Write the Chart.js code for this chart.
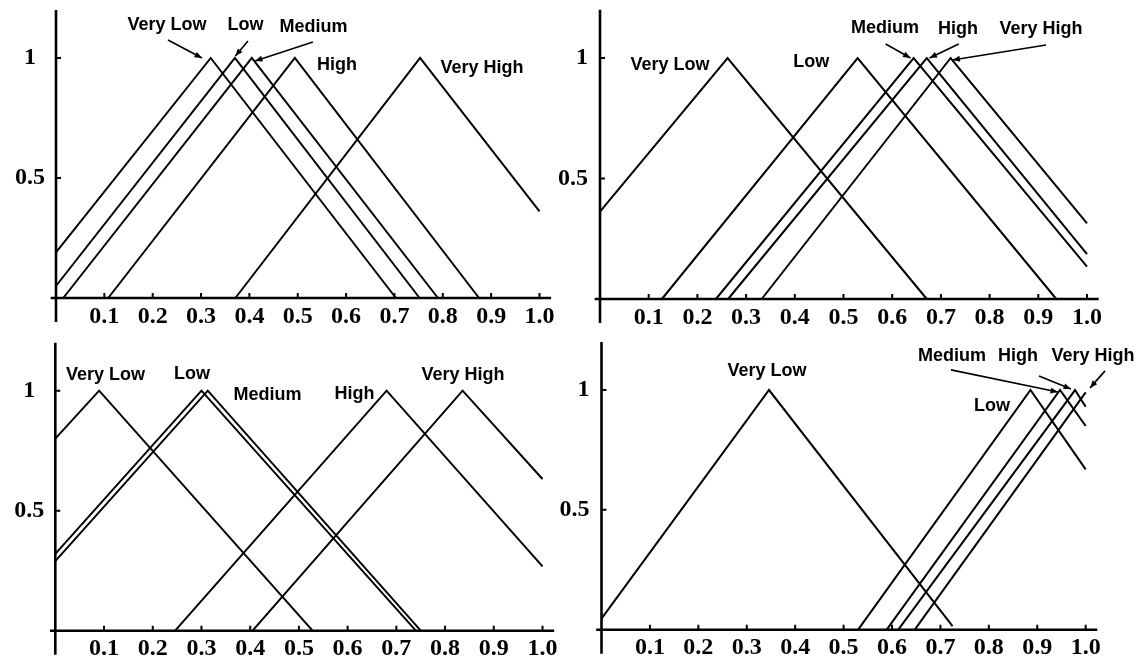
<!DOCTYPE html>
<html lang="en">
<head>
    <meta charset="UTF-8">
    <title>Membership Functions</title>
    <script src="https://cdn.jsdelivr.net/npm/chart.js"></script>
    <style>
        * {
            box-sizing: border-box;
            margin: 0;
            padding: 0;
        }
        body {
            background-color: #ffffff;
            width: 1143px;
            height: 666px;
            position: relative;
            overflow: hidden;
        }
        canvas {
            position: absolute;
        }
    </style>
</head>
<body>

<canvas id="chartA" width="571" height="333" style="left:0;top:0"></canvas>
<canvas id="chartB" width="593" height="333" style="left:550px;top:0"></canvas>
<canvas id="chartC" width="571" height="333" style="left:0;top:333px"></canvas>
<canvas id="chartD" width="593" height="333" style="left:550px;top:333px"></canvas>

<script>
    // categories and tick labels
    var termNames = ['Very Low', 'Low', 'Medium', 'High', 'Very High'];
    var xTicks = [0.1, 0.2, 0.3, 0.4, 0.5, 0.6, 0.7, 0.8, 0.9, 1.0];
    var yTicks = [0.5, 1];

    // corner points [x, membership] of each term, one list per panel
    var topLeft = [
        [[0, 0.19], [0.32, 1], [0.703, 0]],
        [[0, 0.05], [0.37, 1], [0.752, 0]],
        [[0.015, 0], [0.405, 1], [0.79, 0]],
        [[0.108, 0], [0.494, 1], [0.875, 0]],
        [[0.371, 0], [0.753, 1], [1.0, 0.361]]
    ];
    var topRight = [
        [[0, 0.363], [0.262, 1], [0.671, 0]],
        [[0.127, 0], [0.529, 1], [0.937, 0]],
        [[0.238, 0], [0.644, 1], [1.0, 0.134]],
        [[0.263, 0], [0.671, 1], [1.0, 0.186]],
        [[0.332, 0], [0.72, 1], [1.0, 0.314]]
    ];
    var bottomLeft = [
        [[0, 0.80], [0.09, 1], [0.528, 0]],
        [[0, 0.32], [0.30, 1], [0.74, 0]],
        [[0, 0.29], [0.313, 1], [0.75, 0]],
        [[0.246, 0], [0.68, 1], [1.0, 0.268]],
        [[0.405, 0], [0.836, 1], [1.0, 0.632]]
    ];
    var bottomRight = [
        [[0, 0.046], [0.346, 1], [0.725, 0.015]],
        [[0.53, 0], [0.886, 1], [1.0, 0.669]],
        [[0.589, 0], [0.947, 1], [1.0, 0.85]],
        [[0.613, 0], [0.978, 1], [1.0, 0.93]],
        [[0.647, 0], [1.0, 0.99]]
    ];

    // where the term names and arrows sit, in axis units
    var labelSpots = {
        chartA: [[0.2296, 1.1375], [0.392, 1.1375], [0.5326, 1.129], [0.581, 0.971], [0.881, 0.958]],
        chartB: [[0.1437, 0.971], [0.434, 0.983], [0.585, 1.124], [0.735, 1.12], [0.9055, 1.12]],
        chartC: [[0.103, 1.0667], [0.2806, 1.0696], [0.4356, 0.982], [0.614, 0.986], [0.837, 1.0654]],
        chartD: [[0.3418, 1.079], [0.8065, 0.933], [0.724, 1.142], [0.860, 1.142], [1.015, 1.142]]
    };
    var arrowSpots = {
        chartA: [[0.2316, 1.075, 0.302, 1.0], [0.397, 1.071, 0.371, 1.008], [0.5315, 1.067, 0.4116, 0.9875]],
        chartB: [[0.5866, 1.058, 0.6376, 1.0], [0.7366, 1.058, 0.6766, 1.0], [0.9158, 1.054, 0.7238, 0.992]],
        chartC: [],
        chartD: [[0.7218, 1.084, 0.9427, 0.9916], [0.9036, 1.059, 0.9696, 1.004], [1.04, 1.08, 1.009, 1.009]]
    };

    // plot box of each panel in canvas pixels
    var boxes = {
        chartA: { left: 56, top: 10, right: 19.9, bottom: 35, yAlign: 'center', yPad: 11 },
        chartB: { left: 50, top: 9.8, right: 44.3, bottom: 34, yAlign: 'near', yPad: 12 },
        chartC: { left: 55.3, top: 9.7, right: 16.8, bottom: 35.3, yAlign: 'center', yPad: 11 },
        chartD: { left: 51.5, top: 9.1, right: 45.7, bottom: 36.3, yAlign: 'near', yPad: 12 }
    };

    function drawArrow(ctx, x1, y1, x2, y2) {
        ctx.beginPath();
        ctx.moveTo(x1, y1);
        ctx.lineTo(x2, y2);
        ctx.stroke();
        var a = Math.atan2(y2 - y1, x2 - x1), len = 8, w = 0.38;
        ctx.beginPath();
        ctx.moveTo(x2, y2);
        ctx.lineTo(x2 - len * Math.cos(a - w), y2 - len * Math.sin(a - w));
        ctx.lineTo(x2 - len * Math.cos(a + w), y2 - len * Math.sin(a + w));
        ctx.closePath();
        ctx.fill();
    }

    // axes, inner tick marks, term names and arrows
    var decorPlugin = {
        id: 'decor',
        afterDraw: function(chart) {
            var ctx = chart.ctx;
            var xs = chart.scales.x, ys = chart.scales.y;
            var x0 = xs.getPixelForValue(0), y0 = ys.getPixelForValue(0);
            ctx.save();
            ctx.strokeStyle = '#000';
            ctx.fillStyle = '#000';
            ctx.lineWidth = 2.6;
            ctx.beginPath();
            ctx.moveTo(xs.getPixelForValue(-0.011), y0);
            ctx.lineTo(chart.chartArea.right, y0);
            ctx.moveTo(x0, ys.getPixelForValue(1.2));
            ctx.lineTo(x0, ys.getPixelForValue(-0.1));
            ctx.stroke();
            ctx.lineWidth = 2;
            ctx.beginPath();
            xTicks.forEach(function(v) {
                var px = xs.getPixelForValue(v);
                ctx.moveTo(px, y0);
                ctx.lineTo(px, y0 - 5);
            });
            yTicks.forEach(function(v) {
                var py = ys.getPixelForValue(v);
                ctx.moveTo(x0, py);
                ctx.lineTo(x0 + 5, py);
            });
            ctx.stroke();

            var id = chart.canvas.id;
            ctx.font = 'bold 18px "Liberation Sans", Arial, sans-serif';
            ctx.textAlign = 'center';
            ctx.textBaseline = 'middle';
            labelSpots[id].forEach(function(p, i) {
                ctx.fillText(termNames[i], xs.getPixelForValue(p[0]), ys.getPixelForValue(p[1]));
            });
            ctx.lineWidth = 1.6;
            arrowSpots[id].forEach(function(a) {
                drawArrow(ctx, xs.getPixelForValue(a[0]), ys.getPixelForValue(a[1]),
                    xs.getPixelForValue(a[2]), ys.getPixelForValue(a[3]));
            });
            ctx.restore();
        }
    };

    var tickFont = { family: '"Liberation Serif", "Times New Roman", serif', size: 24, weight: 'bold' };

    function noPadding(s) {
        s.paddingTop = 0;
        s.paddingBottom = 0;
        s.paddingLeft = 0;
        s.paddingRight = 0;
    }

    function makeChart(id, series) {
        var box = boxes[id];
        return new Chart(document.getElementById(id), {
            type: 'scatter',
            data: {
                datasets: series.map(function(pts, i) {
                    return {
                        label: termNames[i],
                        data: pts.map(function(p) { return { x: p[0], y: p[1] }; }),
                        showLine: true,
                        borderColor: '#000',
                        borderWidth: 2,
                        pointRadius: 0,
                        tension: 0,
                        clip: 4
                    };
                })
            },
            options: {
                responsive: false,
                animation: false,
                events: [],
                layout: { padding: { left: 0, top: box.top, right: box.right, bottom: 0 } },
                plugins: {
                    legend: { display: false },
                    tooltip: { enabled: false }
                },
                scales: {
                    x: {
                        type: 'linear',
                        min: 0,
                        max: 1.024,
                        afterBuildTicks: function(s) { s.ticks = xTicks.map(function(v) { return { value: v }; }); },
                        afterFit: function(s) { s.height = box.bottom; noPadding(s); },
                        grid: { display: false, drawTicks: false },
                        border: { display: false },
                        ticks: {
                            color: '#000',
                            font: tickFont,
                            padding: 4,
                            maxRotation: 0,
                            autoSkip: false,
                            callback: function(v) { return v.toFixed(1); }
                        }
                    },
                    y: {
                        type: 'linear',
                        min: 0,
                        max: 1.2,
                        afterBuildTicks: function(s) { s.ticks = yTicks.map(function(v) { return { value: v }; }); },
                        afterFit: function(s) { s.width = box.left; noPadding(s); },
                        grid: { display: false, drawTicks: false },
                        border: { display: false },
                        ticks: {
                            color: '#000',
                            font: tickFont,
                            padding: box.yPad,
                            crossAlign: box.yAlign,
                            callback: function(v) { return String(v); }
                        }
                    }
                }
            },
            plugins: [decorPlugin]
        });
    }

    makeChart('chartA', topLeft);
    makeChart('chartB', topRight);
    makeChart('chartC', bottomLeft);
    makeChart('chartD', bottomRight);
</script>

</body>
</html>
